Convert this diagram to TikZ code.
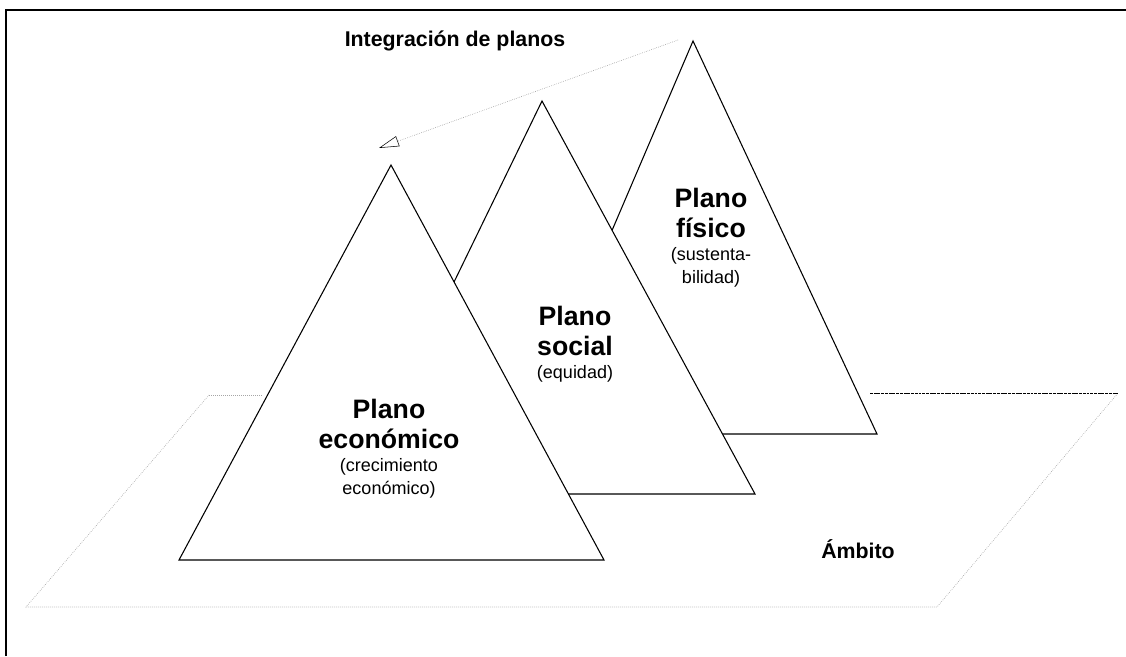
\documentclass[tikz,border=0pt]{standalone}
\usepackage{fontspec}
\setmainfont{Liberation Sans}
\usetikzlibrary{arrows.meta, positioning}
\tikzset{
  plano/.style={draw=black, line width=0.8pt, fill=white, line join=miter},
  ambito/.style={draw=gray!70, line width=0.5pt, densely dotted},
  titulo/.style={font=\bfseries\fontsize{20}{22}\selectfont, align=center, inner sep=0pt},
  nota/.style={font=\fontsize{13.5}{17}\selectfont, align=center, inner sep=0pt},
  etiqueta/.style={font=\bfseries\fontsize{16}{18}\selectfont, inner sep=0pt, anchor=base}
}
\begin{document}
\begin{tikzpicture}[x=0.75pt, y=-0.75pt]
\useasboundingbox (0,0) rectangle (1126,656);
\draw[line width=1.8pt] (6,656) -- (6,10) -- (1126,10);
\draw[ambito] (209,395) -- (26,607) -- (937,607) -- (1118,393);
\draw[ambito] (209,395) -- (262,395);
\draw[line width=0.5pt, dash pattern=on 2.2pt off 0.6pt] (870,393) -- (1118,393);
\coordinate (fisA) at (693,41);
\coordinate (fisL) at (525,434);
\coordinate (fisR) at (877,434);
\coordinate (socA) at (542,101);
\coordinate (socL) at (351,494);
\coordinate (socR) at (755,494);
\coordinate (ecoA) at (391,165);
\coordinate (ecoL) at (179,560);
\coordinate (ecoR) at (604,560);
\draw[plano] (fisA) -- (fisR) -- (fisL) -- cycle;
\draw[plano] (socA) -- (socR) -- (socL) -- cycle;
\draw[plano] (ecoA) -- (ecoR) -- (ecoL) -- cycle;
\node[titulo] (fisT) at (711,213) {Plano\\físico};
\node[nota, below=7pt of fisT] (fisN) {(sustenta-\\bilidad)};
\node[titulo] (socT) at (575,331) {Plano\\social};
\node[nota, below=7pt of socT] (socN) {(equidad)};
\node[titulo] (ecoT) at (389,424) {Plano\\económico};
\node[nota, below=7pt of ecoT] (ecoN) {(crecimiento\\económico)};
\node[etiqueta] (integ) at (455,47) {Integración de planos};
\node[etiqueta] (amb) at (858,558) {Ámbito};
\coordinate (flechaIni) at (678,40);
\coordinate (flechaFin) at (379,148);
\draw[gray, line width=0.4pt, densely dotted, -{Triangle[open, length=15pt, width=8pt, black]}] (flechaIni) -- (flechaFin);
\end{tikzpicture}
\end{document}
